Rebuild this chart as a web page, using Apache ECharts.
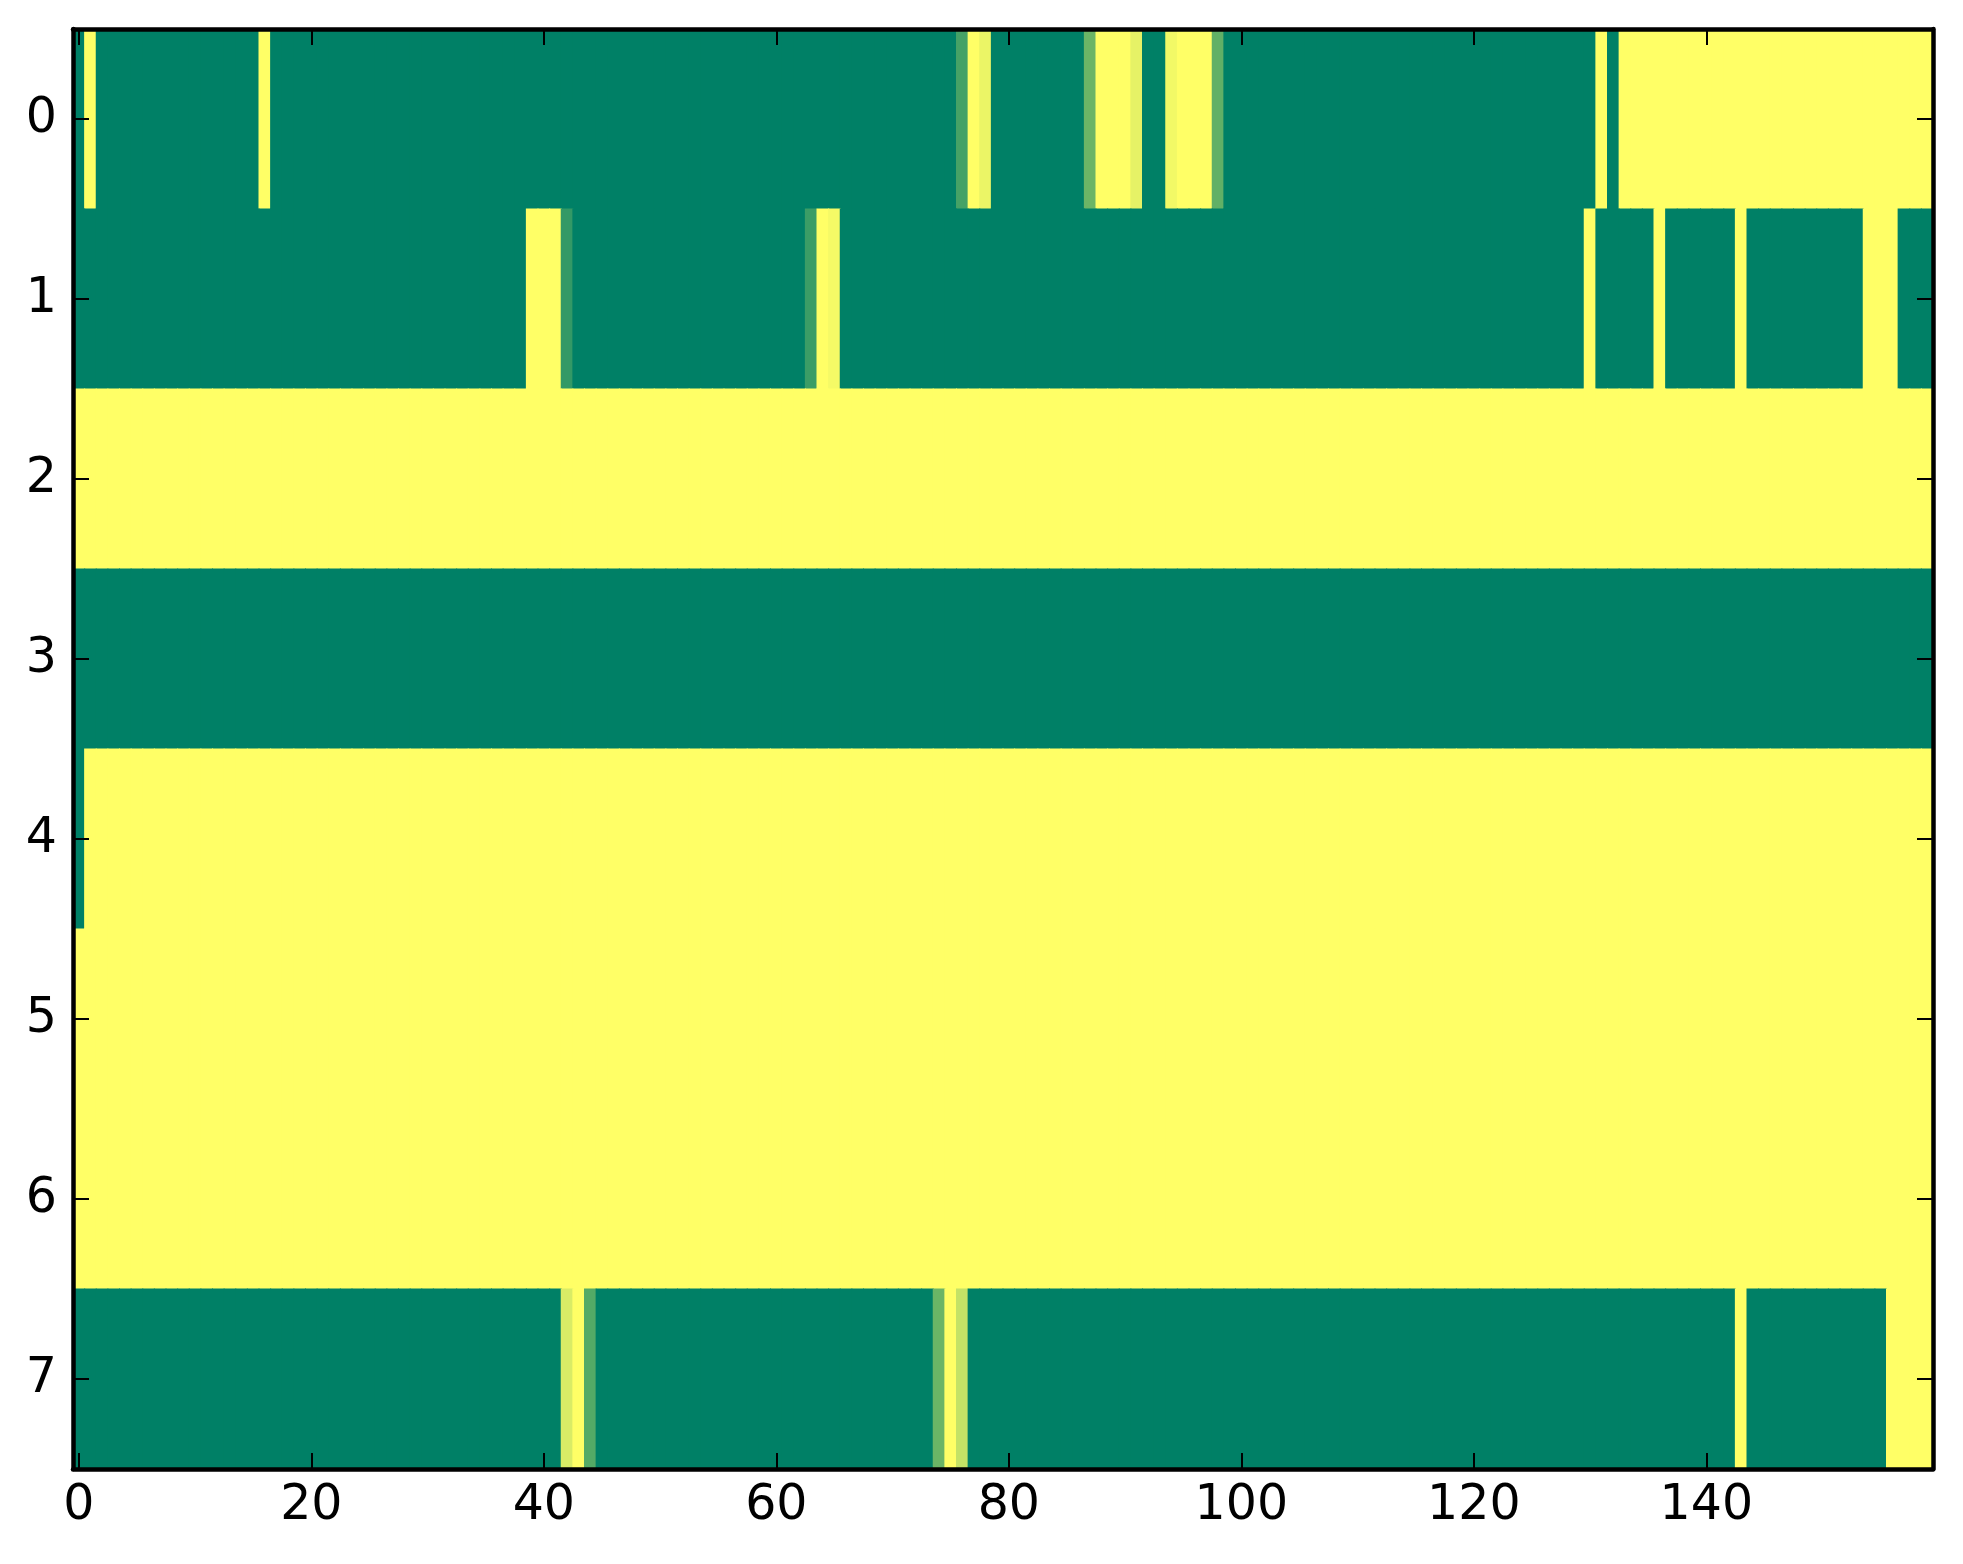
<!DOCTYPE html>
<html>
<head>
<meta charset="utf-8">
<title>heatmap</title>
<script src="https://cdn.jsdelivr.net/npm/echarts@6/dist/echarts.min.js"></script>
<style>
  html, body { margin: 0; padding: 0; background: #fff; }
  #main { width: 1963px; height: 1564px; }
</style>
</head>
<body>
<div id="main"></div>
<script>
// ---------- data: one array per row, 160 columns (0..159) ----------
const row0 = [
  0, 1, 0, 0, 0, 0, 0, 0, 0, 0, 0, 0, 0, 0, 0, 0, 1, 0, 0, 0,
  0, 0, 0, 0, 0, 0, 0, 0, 0, 0, 0, 0, 0, 0, 0, 0, 0, 0, 0, 0,
  0, 0, 0, 0, 0, 0, 0, 0, 0, 0, 0, 0, 0, 0, 0, 0, 0, 0, 0, 0,
  0, 0, 0, 0, 0, 0, 0, 0, 0, 0, 0, 0, 0, 0, 0, 0, 0.27, 1, 0.92, 0,
  0, 0, 0, 0, 0, 0, 0, 0.42, 1, 1, 1, 0.9, 0, 0, 0.95, 1, 1, 1, 0.38, 0,
  0, 0, 0, 0, 0, 0, 0, 0, 0, 0, 0, 0, 0, 0, 0, 0, 0, 0, 0, 0,
  0, 0, 0, 0, 0, 0, 0, 0, 0, 0, 0, 1, 0, 1, 1, 1, 1, 1, 1, 1,
  1, 1, 1, 1, 1, 1, 1, 1, 1, 1, 1, 1, 1, 1, 1, 1, 1, 1, 1, 1
]
const row1 = [
  0, 0, 0, 0, 0, 0, 0, 0, 0, 0, 0, 0, 0, 0, 0, 0, 0, 0, 0, 0,
  0, 0, 0, 0, 0, 0, 0, 0, 0, 0, 0, 0, 0, 0, 0, 0, 0, 0, 0, 1,
  1, 1, 0.2, 0, 0, 0, 0, 0, 0, 0, 0, 0, 0, 0, 0, 0, 0, 0, 0, 0,
  0, 0, 0, 0.23, 1, 0.96, 0, 0, 0, 0, 0, 0, 0, 0, 0, 0, 0, 0, 0, 0,
  0, 0, 0, 0, 0, 0, 0, 0, 0, 0, 0, 0, 0, 0, 0, 0, 0, 0, 0, 0,
  0, 0, 0, 0, 0, 0, 0, 0, 0, 0, 0, 0, 0, 0, 0, 0, 0, 0, 0, 0,
  0, 0, 0, 0, 0, 0, 0, 0, 0, 0, 1, 0, 0, 0, 0, 0, 1, 0, 0, 0,
  0, 0, 0, 1, 0, 0, 0, 0, 0, 0, 0, 0, 0, 0, 1, 1, 1, 0, 0, 0
]
const row2 = [
  1, 1, 1, 1, 1, 1, 1, 1, 1, 1, 1, 1, 1, 1, 1, 1, 1, 1, 1, 1,
  1, 1, 1, 1, 1, 1, 1, 1, 1, 1, 1, 1, 1, 1, 1, 1, 1, 1, 1, 1,
  1, 1, 1, 1, 1, 1, 1, 1, 1, 1, 1, 1, 1, 1, 1, 1, 1, 1, 1, 1,
  1, 1, 1, 1, 1, 1, 1, 1, 1, 1, 1, 1, 1, 1, 1, 1, 1, 1, 1, 1,
  1, 1, 1, 1, 1, 1, 1, 1, 1, 1, 1, 1, 1, 1, 1, 1, 1, 1, 1, 1,
  1, 1, 1, 1, 1, 1, 1, 1, 1, 1, 1, 1, 1, 1, 1, 1, 1, 1, 1, 1,
  1, 1, 1, 1, 1, 1, 1, 1, 1, 1, 1, 1, 1, 1, 1, 1, 1, 1, 1, 1,
  1, 1, 1, 1, 1, 1, 1, 1, 1, 1, 1, 1, 1, 1, 1, 1, 1, 1, 1, 1
]
const row3 = [
  0, 0, 0, 0, 0, 0, 0, 0, 0, 0, 0, 0, 0, 0, 0, 0, 0, 0, 0, 0,
  0, 0, 0, 0, 0, 0, 0, 0, 0, 0, 0, 0, 0, 0, 0, 0, 0, 0, 0, 0,
  0, 0, 0, 0, 0, 0, 0, 0, 0, 0, 0, 0, 0, 0, 0, 0, 0, 0, 0, 0,
  0, 0, 0, 0, 0, 0, 0, 0, 0, 0, 0, 0, 0, 0, 0, 0, 0, 0, 0, 0,
  0, 0, 0, 0, 0, 0, 0, 0, 0, 0, 0, 0, 0, 0, 0, 0, 0, 0, 0, 0,
  0, 0, 0, 0, 0, 0, 0, 0, 0, 0, 0, 0, 0, 0, 0, 0, 0, 0, 0, 0,
  0, 0, 0, 0, 0, 0, 0, 0, 0, 0, 0, 0, 0, 0, 0, 0, 0, 0, 0, 0,
  0, 0, 0, 0, 0, 0, 0, 0, 0, 0, 0, 0, 0, 0, 0, 0, 0, 0, 0, 0
]
const row4 = [
  0, 1, 1, 1, 1, 1, 1, 1, 1, 1, 1, 1, 1, 1, 1, 1, 1, 1, 1, 1,
  1, 1, 1, 1, 1, 1, 1, 1, 1, 1, 1, 1, 1, 1, 1, 1, 1, 1, 1, 1,
  1, 1, 1, 1, 1, 1, 1, 1, 1, 1, 1, 1, 1, 1, 1, 1, 1, 1, 1, 1,
  1, 1, 1, 1, 1, 1, 1, 1, 1, 1, 1, 1, 1, 1, 1, 1, 1, 1, 1, 1,
  1, 1, 1, 1, 1, 1, 1, 1, 1, 1, 1, 1, 1, 1, 1, 1, 1, 1, 1, 1,
  1, 1, 1, 1, 1, 1, 1, 1, 1, 1, 1, 1, 1, 1, 1, 1, 1, 1, 1, 1,
  1, 1, 1, 1, 1, 1, 1, 1, 1, 1, 1, 1, 1, 1, 1, 1, 1, 1, 1, 1,
  1, 1, 1, 1, 1, 1, 1, 1, 1, 1, 1, 1, 1, 1, 1, 1, 1, 1, 1, 1
]
const row5 = [
  1, 1, 1, 1, 1, 1, 1, 1, 1, 1, 1, 1, 1, 1, 1, 1, 1, 1, 1, 1,
  1, 1, 1, 1, 1, 1, 1, 1, 1, 1, 1, 1, 1, 1, 1, 1, 1, 1, 1, 1,
  1, 1, 1, 1, 1, 1, 1, 1, 1, 1, 1, 1, 1, 1, 1, 1, 1, 1, 1, 1,
  1, 1, 1, 1, 1, 1, 1, 1, 1, 1, 1, 1, 1, 1, 1, 1, 1, 1, 1, 1,
  1, 1, 1, 1, 1, 1, 1, 1, 1, 1, 1, 1, 1, 1, 1, 1, 1, 1, 1, 1,
  1, 1, 1, 1, 1, 1, 1, 1, 1, 1, 1, 1, 1, 1, 1, 1, 1, 1, 1, 1,
  1, 1, 1, 1, 1, 1, 1, 1, 1, 1, 1, 1, 1, 1, 1, 1, 1, 1, 1, 1,
  1, 1, 1, 1, 1, 1, 1, 1, 1, 1, 1, 1, 1, 1, 1, 1, 1, 1, 1, 1
]
const row6 = [
  1, 1, 1, 1, 1, 1, 1, 1, 1, 1, 1, 1, 1, 1, 1, 1, 1, 1, 1, 1,
  1, 1, 1, 1, 1, 1, 1, 1, 1, 1, 1, 1, 1, 1, 1, 1, 1, 1, 1, 1,
  1, 1, 1, 1, 1, 1, 1, 1, 1, 1, 1, 1, 1, 1, 1, 1, 1, 1, 1, 1,
  1, 1, 1, 1, 1, 1, 1, 1, 1, 1, 1, 1, 1, 1, 1, 1, 1, 1, 1, 1,
  1, 1, 1, 1, 1, 1, 1, 1, 1, 1, 1, 1, 1, 1, 1, 1, 1, 1, 1, 1,
  1, 1, 1, 1, 1, 1, 1, 1, 1, 1, 1, 1, 1, 1, 1, 1, 1, 1, 1, 1,
  1, 1, 1, 1, 1, 1, 1, 1, 1, 1, 1, 1, 1, 1, 1, 1, 1, 1, 1, 1,
  1, 1, 1, 1, 1, 1, 1, 1, 1, 1, 1, 1, 1, 1, 1, 1, 1, 1, 1, 1
]
const row7 = [
  0, 0, 0, 0, 0, 0, 0, 0, 0, 0, 0, 0, 0, 0, 0, 0, 0, 0, 0, 0,
  0, 0, 0, 0, 0, 0, 0, 0, 0, 0, 0, 0, 0, 0, 0, 0, 0, 0, 0, 0,
  0, 0, 0.85, 1, 0.33, 0, 0, 0, 0, 0, 0, 0, 0, 0, 0, 0, 0, 0, 0, 0,
  0, 0, 0, 0, 0, 0, 0, 0, 0, 0, 0, 0, 0, 0, 0.42, 1, 0.77, 0, 0, 0,
  0, 0, 0, 0, 0, 0, 0, 0, 0, 0, 0, 0, 0, 0, 0, 0, 0, 0, 0, 0,
  0, 0, 0, 0, 0, 0, 0, 0, 0, 0, 0, 0, 0, 0, 0, 0, 0, 0, 0, 0,
  0, 0, 0, 0, 0, 0, 0, 0, 0, 0, 0, 0, 0, 0, 0, 0, 0, 0, 0, 0,
  0, 0, 0, 1, 0, 0, 0, 0, 0, 0, 0, 0, 0, 0, 0, 0, 1, 1, 1, 1
]
const rows = [row0, row1, row2, row3, row4, row5, row6, row7]
const rowLabels = ['0', '1', '2', '3', '4', '5', '6', '7']
const colLabels = row0.map((v, i) => String(i))
const tickStep = 20 // x ticks at 0, 20, ... 140

// 拼成 [x, y, value]
let cells = []
rows.forEach((row, y) => {
  row.forEach((v, x) => cells.push([x, y, v]))
})

let myChart = echarts.init(document.querySelector('#main'))

const lineStyle = { color: '#000', width: 4.5 }
const tickStyle = { color: '#000', width: 2 }
const showTick = i => i % tickStep === 0

// 刻度朝里
const xTick = { show: true, inside: true, length: 16, alignWithLabel: true, interval: showTick, lineStyle: tickStyle }
const yTick = { show: true, inside: true, length: 16, alignWithLabel: true, interval: 0, lineStyle: tickStyle }

// 每个格子画成矩形，稍微放大一点盖住缝隙
function renderCell(params, api) {
  let p = api.coord([api.value(0), api.value(1)])
  let s = api.size([1, 1])
  return {
    type: 'rect',
    shape: { x: p[0] - s[0] / 2 - 0.5, y: p[1] - s[1] / 2 - 0.5, width: s[0] + 1, height: s[1] + 1 },
    style: { fill: api.visual('color') }
  }
}

let option = {
  animation: false,
  backgroundColor: '#fff',
  textStyle: { fontFamily: 'DejaVu Sans' },
  grid: { left: 73, right: 30, top: 29, bottom: 95 },
  xAxis: [
    {
      type: 'category',
      data: colLabels,
      position: 'bottom',
      zlevel: 1,
      axisLine: { show: true, lineStyle: lineStyle },
      axisTick: xTick,
      axisLabel: { interval: showTick, fontSize: 49, color: '#000', margin: 13, fontFamily: 'DejaVu Sans' },
      splitLine: { show: false }
    },
    {
      type: 'category',
      data: colLabels,
      position: 'top',
      zlevel: 1,
      axisLine: { show: true, lineStyle: lineStyle },
      axisTick: xTick,
      axisLabel: { show: false },
      splitLine: { show: false }
    }
  ],
  yAxis: [
    {
      type: 'category',
      data: rowLabels,
      inverse: true,
      position: 'left',
      zlevel: 1,
      axisLine: { show: true, lineStyle: lineStyle },
      axisTick: yTick,
      axisLabel: { fontSize: 49, color: '#000', margin: 16, fontFamily: 'DejaVu Sans' },
      splitLine: { show: false }
    },
    {
      type: 'category',
      data: rowLabels,
      inverse: true,
      position: 'right',
      zlevel: 1,
      axisLine: { show: true, lineStyle: lineStyle },
      axisTick: yTick,
      axisLabel: { show: false },
      splitLine: { show: false }
    }
  ],
  // summer 色带：0 -> #008066, 1 -> #ffff66
  visualMap: {
    show: false,
    type: 'continuous',
    min: 0,
    max: 1,
    dimension: 2,
    seriesIndex: 0,
    inRange: { color: ['#008066', '#ffff66'] }
  },
  series: [
    {
      type: 'custom',
      xAxisIndex: 0,
      yAxisIndex: 0,
      data: cells,
      encode: { x: 0, y: 1 },
      renderItem: renderCell,
      clip: true,
      progressive: 0,
      silent: true
    }
  ]
}
myChart.setOption(option)
</script>
</body>
</html>
